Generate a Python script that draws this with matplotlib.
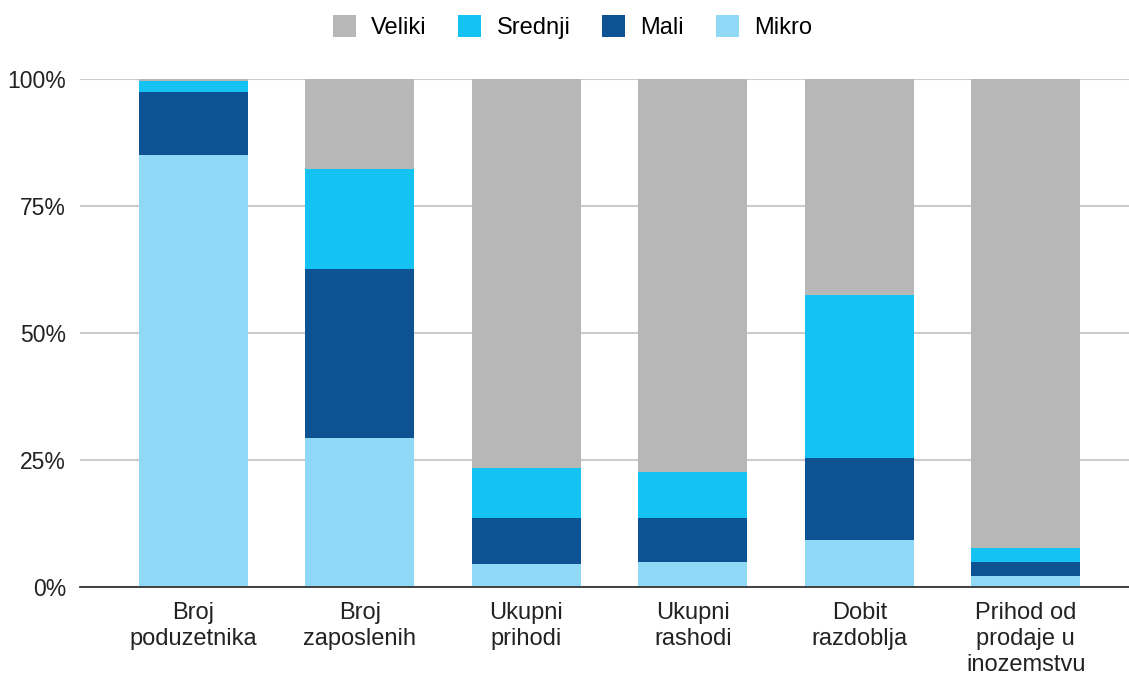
import numpy as np
import matplotlib.pyplot as plt
from matplotlib.ticker import FuncFormatter

plt.rcParams['font.family'] = ['Liberation Sans', 'DejaVu Sans']

categories = ['Broj\npoduzetnika', 'Broj\nzaposlenih', 'Ukupni\nprihodi',
              'Ukupni\nrashodi', 'Dobit\nrazdoblja', 'Prihod od\nprodaje u\ninozemstvu']
mikro = [85.0, 29.3, 4.5, 4.9, 9.3, 2.2]
mali = [12.4, 33.3, 9.1, 8.7, 16.1, 2.7]
srednji = [2.2, 19.7, 9.8, 9.0, 32.1, 2.8]
veliki = [0.4, 17.7, 76.6, 77.4, 42.5, 92.3]

fig = plt.figure(figsize=(11.29, 6.8), dpi=100)
ax = fig.add_axes([0.0709, 0.137, 0.9291, 0.747])

x = np.arange(len(categories))
w = 0.655
bottom = np.zeros(len(categories))
series = [('Mikro', mikro, '#8fd9f7'), ('Mali', mali, '#0d5394'),
          ('Srednji', srednji, '#15c3f2'), ('Veliki', veliki, '#b7b7b7')]
handles = {}
for name, vals, col in series:
    v = np.array(vals) / 100
    handles[name] = ax.bar(x, v, w, bottom=bottom, color=col, zorder=3)
    bottom += v

ax.set_ylim(0, 1)
ax.set_xlim(-0.68, 5.62)
ax.set_yticks([0, 0.25, 0.5, 0.75, 1.0])
ax.yaxis.set_major_formatter(FuncFormatter(lambda v, p: f'{v*100:.0f}%'))
ax.grid(axis='y', color='#cccccc', linewidth=1.5, zorder=0)
for s in ['top', 'right', 'left']:
    ax.spines[s].set_visible(False)
ax.spines['bottom'].set_color('#333333')
ax.spines['bottom'].set_linewidth(1.3)
ax.spines['bottom'].set_zorder(4)
ax.tick_params(axis='both', length=0, labelsize=17, colors='#222222')
ax.tick_params(axis='y', pad=10, labelsize=16.5)
ax.tick_params(axis='x', pad=11)
ax.set_xticks(x)
ax.set_xticklabels(categories, linespacing=1.22)

order = ['Veliki', 'Srednji', 'Mali', 'Mikro']
fig.legend([handles[n] for n in order], order, loc='center', bbox_to_anchor=(0.507, 0.96),
           ncol=4, frameon=False, fontsize=17, handlelength=0.98, handleheight=1.05,
           columnspacing=1.35, handletextpad=0.64)

fig.savefig('out.png', dpi=100, facecolor='white')
